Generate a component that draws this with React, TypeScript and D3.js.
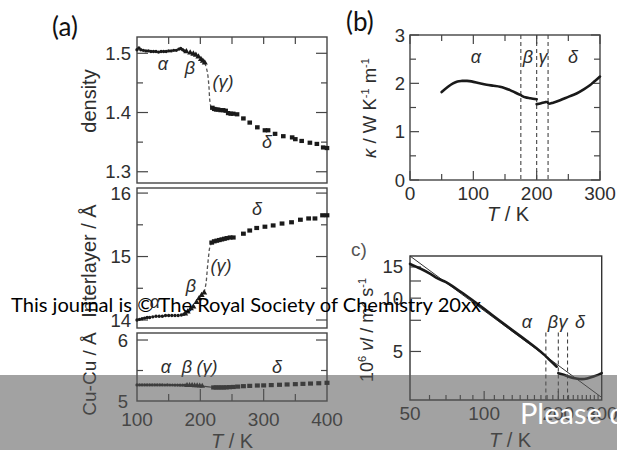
import React from "react";
import * as d3 from "d3";

type Pt = [number, number];

// ---------- (a) density ----------
const densAlpha: Pt[] = [[100,1.506],[103,1.509],[106,1.506],[110,1.505],[114,1.504],[118,1.504],[122,1.503],[126,1.503],[130,1.503],[134,1.502],[138,1.503],[142,1.503],[146,1.503],[150,1.504],[154,1.504],[158,1.505],[162,1.505],[166,1.507],[169,1.508],[172,1.506],[175,1.504]];
const densBeta: Pt[] = [[178,1.503],[184,1.501],[189,1.499],[193,1.497],[197,1.494],[201,1.490],[204,1.487],[207,1.484]];
const densGamma: Pt[] = [[207,1.484],[211,1.469],[213.5,1.445],[215,1.42],[217,1.41],[219,1.408]];
const densDelta: Pt[] = [[219,1.408],[222,1.406],[225,1.405],[228,1.405],[232,1.404],[236,1.404],[240,1.403],[244,1.399],[248,1.398],[252,1.398],[258,1.397],[268,1.390],[278,1.383],[290,1.375],[302,1.370],[307,1.370],[318,1.364],[331,1.360],[345,1.358],[350,1.355],[360,1.352],[373,1.349],[384,1.347],[394,1.341],[400,1.340]];

// ---------- (a) interlayer distance ----------
const interAlpha: Pt[] = [[100,14.0],[104,14.01],[108,14.02],[112,14.03],[116,14.04],[120,14.04],[125,14.05],[130,14.06],[135,14.06],[140,14.06],[145,14.07],[150,14.07],[155,14.07],[160,14.07],[165,14.07],[170,14.08],[174,14.09]];
const interBeta: Pt[] = [[176,14.1],[180,14.13],[185,14.18],[189,14.21],[194,14.28],[198,14.34],[202,14.39],[206,14.43]];
const interGamma: Pt[] = [[206,14.43],[209,14.58],[211,14.8],[213,15.0],[215,15.15],[218,15.22]];
const interDelta: Pt[] = [[218,15.22],[222,15.24],[226,15.25],[230,15.26],[234,15.27],[238,15.28],[242,15.29],[247,15.30],[252,15.30],[268,15.36],[278,15.41],[289,15.45],[302,15.47],[315,15.49],[329,15.52],[344,15.54],[358,15.58],[371,15.60],[381,15.60],[393,15.65],[400,15.65]];

// ---------- (a) Cu-Cu distance ----------
const cuAlpha: Pt[] = [[100,5.263],[104,5.263],[108,5.264],[112,5.263],[116,5.264],[120,5.263],[124,5.264],[128,5.263],[132,5.263],[136,5.264],[140,5.263],[144,5.262],[148,5.263],[152,5.262],[156,5.262],[160,5.261],[164,5.261],[168,5.260],[172,5.260],[176,5.259]];
const cuBeta: Pt[] = [[179,5.258],[183,5.257],[187,5.256],[191,5.254],[195,5.252],[199,5.249],[203,5.246]];
const cuGamma: Pt[] = [[203,5.246],[210,5.236],[218,5.226]];
const cuDelta: Pt[] = [[221,5.222],[225,5.222],[229,5.222],[233,5.222],[237,5.222],[241,5.224],[246,5.227],[252,5.230],[259,5.236],[268,5.243],[278,5.248],[290,5.254],[300,5.256],[312,5.261],[325,5.266],[337,5.271],[350,5.276],[362,5.281],[374,5.286],[387,5.291],[400,5.298]];

// ---------- (b) thermal conductivity ----------
const kappaLow: Pt[] = [[50,1.82],[60,1.93],[68,2.0],[75,2.04],[82,2.05],[90,2.05],[97,2.04],[110,2.0],[121,1.97],[132,1.95],[142,1.93],[150,1.9],[158,1.86],[166,1.81],[174,1.76],[182,1.71],[190,1.69],[200,1.67]];
const kappaHigh: Pt[] = [[200,1.57],[207,1.59],[213,1.61],[217,1.61],[219,1.58],[226,1.6],[237,1.65],[250,1.72],[263,1.79],[275,1.88],[284,1.96],[292,2.05],[300,2.14]];
const kappaPhaseT = [175, 200, 218];

// ---------- (c) v*l, log-log ----------
const vlLow: Pt[] = [[50,15.6],[55,14.7],[60,13.8],[65,12.9],[70,12.3],[80,10.9],[90,9.7],[100,8.7],[115,7.5],[130,6.6],[150,5.7],[165,5.15],[175,4.8],[185,4.45],[197,4.1]];
const vlHigh: Pt[] = [[200,3.77],[212,3.68],[224,3.58],[236,3.52],[249,3.49],[262,3.52],[278,3.61],[290,3.69],[300,3.77]];
const vlFit: Pt[] = [[50,17.3],[300,2.75]];
const vlPhaseT = [178, 200, 218];
const vlPhaseTop = 6.4;

// tick values
const aXMajor = [100, 200, 300, 400];
const aXMinor = [150, 250, 350];
const densMajor = [1.3, 1.4, 1.5];
const densMinor = [1.35, 1.45];
const interMajor = [14, 15, 16];
const interMinor = [14.5, 15.5];
const cuMajor = [5, 6];
const cuMinor = [5.5];
const bXMajor = [0, 100, 200, 300];
const bXMinor = [50, 150, 250];
const bYMajor = [0, 1, 2, 3];
const bYMinor = [0.5, 1.5, 2.5];
const cXLabels = [50, 100, 200, 300];
const cXMajor = [100, 200];
const cXMinor = [60,70,80,90,110,120,130,140,150,160,170,180,190,210,220,230,240,250,260,270,280,290];
const cYTicks = [5, 7.5, 10, 12.5, 15];
const cYLabels = [5, 10, 15];

const FONT = "'Liberation Sans', Arial, Helvetica, sans-serif";
const LABEL_FONT = "Lato, 'Open Sans', sans-serif";
const INK = "#1a1a1a";
const TXT = "#2e2e2e";
const AX = "#454545";

type Scale = (v: number) => number;

function yTicks(ys: Scale, vals: number[], x0: number, x1: number, len: number, key: string) {
  return vals.map((v) => (
    <g key={key + v}>
      <line x1={x0} x2={x0 + len} y1={ys(v)} y2={ys(v)} stroke={AX} strokeWidth={1.2} />
      <line x1={x1} x2={x1 - len} y1={ys(v)} y2={ys(v)} stroke={AX} strokeWidth={1.2} />
    </g>
  ));
}

function xTicks(xs: Scale, vals: number[], y: number, dir: number, len: number, key: string) {
  return vals.map((v) => (
    <line key={key + v} x1={xs(v)} x2={xs(v)} y1={y} y2={y + dir * len} stroke={AX} strokeWidth={1.2} />
  ));
}

function Squares({ data, xs, ys, w, h }: { data: Pt[]; xs: Scale; ys: Scale; w: number; h: number }) {
  return (
    <g fill={INK}>
      {data.map(([t, v], i) => (
        <rect key={i} x={xs(t) - w / 2} y={ys(v) - h / 2} width={w} height={h} />
      ))}
    </g>
  );
}

function Dots({ data, xs, ys, r }: { data: Pt[]; xs: Scale; ys: Scale; r: number }) {
  return (
    <g fill={INK}>
      {data.map(([t, v], i) => (
        <circle key={i} cx={xs(t)} cy={ys(v)} r={r} />
      ))}
    </g>
  );
}

function Triangles({ data, xs, ys, size }: { data: Pt[]; xs: Scale; ys: Scale; size: number }) {
  const sym = d3.symbol(d3.symbolTriangle, size)() as string;
  return (
    <g fill={INK}>
      {data.map(([t, v], i) => (
        <path key={i} d={sym} transform={`translate(${xs(t)},${ys(v)})`} />
      ))}
    </g>
  );
}

function Greek({ x, y, children, size = 18 }: { x: number; y: number; children: React.ReactNode; size?: number }) {
  return (
    <text x={x} y={y} textAnchor="middle" fontFamily={FONT} fontStyle="italic" fontSize={size} fill={TXT}>
      {children}
    </text>
  );
}

export default function App() {
  // panel (a)
  const aL = 137, aR = 327;
  const xa = d3.scaleLinear().domain([100, 400]).range([aL, aR]);
  const dTop = 37, dBot = 183;
  const yDens = d3.scaleLinear().domain([1.281, 1.5275]).range([dBot, dTop]);
  const iTop = 188, iBot = 328;
  const yInter = d3.scaleLinear().domain([13.874, 16.08]).range([iBot, iTop]);
  const cTop = 333, cBot = 401;
  const yCu = d3.scaleLinear().domain([5, 6.115]).range([cBot, cTop]);

  // panel (b)
  const bL = 410, bR = 600, bT = 35, bB = 180;
  const xb = d3.scaleLinear().domain([0, 300]).range([bL, bR]);
  const yb = d3.scaleLinear().domain([0, 3]).range([bB, bT]);

  // panel (c)
  const cL = 410, cR = 601.7, cT = 256, cB = 400;
  const xc = d3.scaleLog().domain([50, 300]).range([cL, cR]);
  const yc = d3.scaleLog().domain([2.66, 17.3]).range([cB, cT]);

  const lineA = (ys: Scale) => d3.line<Pt>().x((d) => xa(d[0])).y((d) => ys(d[1])).curve(d3.curveCatmullRom);
  const lineB = d3.line<Pt>().x((d) => xb(d[0])).y((d) => yb(d[1])).curve(d3.curveCatmullRom);
  const lineC = d3.line<Pt>().x((d) => xc(d[0])).y((d) => yc(d[1])).curve(d3.curveCatmullRom);
  const lineCStraight = d3.line<Pt>().x((d) => xc(d[0])).y((d) => yc(d[1]));

  const tickText = { fontFamily: FONT, fontSize: 18.5, fill: TXT } as const;

  return (
    <svg width={617} height={450} viewBox="0 0 617 450" style={{ position: "absolute", left: 0, top: 0, background: "#fff" }}>
      <rect x={0} y={0} width={617} height={450} fill="#fff" />

      {/* ===== (a) ===== */}
      <text x={52} y={36} fontFamily={LABEL_FONT} fontSize={26} fill="#111">(a)</text>

      {/* density */}
      <rect x={aL} y={dTop} width={aR - aL} height={dBot - dTop} fill="none" stroke={AX} strokeWidth={1.4} />
      {yTicks(yDens, densMajor, aL, aR, 11, "dM")}
      {yTicks(yDens, densMinor, aL, aR, 6, "dm")}
      {xTicks(xa, [...aXMinor, 200, 300], dTop, 1, 7, "dx")}
      {densMajor.map((v) => (
        <text key={v} x={131} y={yDens(v) + 6.5} textAnchor="end" {...tickText}>{v.toFixed(1)}</text>
      ))}
      <path d={lineA(yDens)(densGamma) as string} fill="none" stroke="#555" strokeWidth={1.3} strokeDasharray="3.5,2.5" />
      <Dots data={densAlpha} xs={xa} ys={yDens} r={1.7} />
      <Triangles data={densBeta} xs={xa} ys={yDens} size={16} />
      <Squares data={densDelta} xs={xa} ys={yDens} w={4.6} h={4.2} />
      <Greek x={163} y={70}>α</Greek>
      <Greek x={190} y={74}>β</Greek>
      <Greek x={223} y={88}>(γ)</Greek>
      <Greek x={267} y={148}>δ</Greek>
      <text transform="translate(96,101) rotate(-90)" textAnchor="middle" fontFamily={FONT} fontSize={20} fill={TXT}>density</text>

      {/* interlayer */}
      <rect x={aL} y={iTop} width={aR - aL} height={iBot - iTop} fill="none" stroke={AX} strokeWidth={1.4} />
      {yTicks(yInter, interMajor, aL, aR, 11, "iM")}
      {yTicks(yInter, interMinor, aL, aR, 6, "im")}
      {interMajor.map((v) => (
        <text key={v} x={131} y={yInter(v) + 6.5} textAnchor="end" {...tickText}>{v}</text>
      ))}
      <path d={lineA(yInter)(interGamma) as string} fill="none" stroke="#555" strokeWidth={1.3} strokeDasharray="3.5,2.5" />
      <Dots data={interAlpha} xs={xa} ys={yInter} r={1.7} />
      <Triangles data={interBeta} xs={xa} ys={yInter} size={16} />
      <Squares data={interDelta} xs={xa} ys={yInter} w={4.8} h={4.2} />
      <Greek x={155} y={308}>α</Greek>
      <Greek x={191} y={292}>β</Greek>
      <Greek x={221} y={272}>(γ)</Greek>
      <Greek x={257} y={215}>δ</Greek>
      <text transform="translate(96,261) rotate(-90)" textAnchor="middle" fontFamily={FONT} fontSize={20} fill={TXT}>Interlayer / Å</text>

      {/* Cu-Cu */}
      <rect x={aL} y={cTop} width={aR - aL} height={cBot - cTop} fill="none" stroke={AX} strokeWidth={1.4} />
      {yTicks(yCu, [6], aL, aR, 11, "cM")}
      {yTicks(yCu, cuMinor, aL, aR, 6, "cm")}
      {xTicks(xa, [200, 300], cBot, -1, 12, "cxM")}
      {xTicks(xa, aXMinor, cBot, -1, 7, "cxm")}
      {cuMajor.map((v) => (
        <text key={v} x={128} y={yCu(v) + 6.5} textAnchor="end" {...tickText}>{v}</text>
      ))}
      {aXMajor.map((v) => (
        <text key={v} x={xa(v)} y={426} textAnchor="middle" {...tickText} fontSize={19}>{v}</text>
      ))}
      <path d={lineA(yCu)(cuGamma) as string} fill="none" stroke="#333" strokeWidth={1.1} />
      <Dots data={cuAlpha} xs={xa} ys={yCu} r={1.6} />
      <Triangles data={cuBeta} xs={xa} ys={yCu} size={14} />
      <Squares data={cuDelta} xs={xa} ys={yCu} w={5} h={4.2} />
      <Greek x={166} y={373}>α</Greek>
      <Greek x={187} y={373}>β</Greek>
      <Greek x={207} y={373}>(γ)</Greek>
      <Greek x={277} y={373}>δ</Greek>
      <text transform="translate(96,374) rotate(-90)" textAnchor="middle" fontFamily={FONT} fontSize={19} fill={TXT}>Cu-Cu / Å</text>
      <text x={232} y={448} textAnchor="middle" fontFamily={FONT} fontSize={20} fill={TXT}>
        <tspan fontStyle="italic">T</tspan> / K
      </text>

      {/* ===== (b) ===== */}
      <text x={346} y={31} fontFamily={LABEL_FONT} fontSize={26} fill="#111">(b)</text>
      <rect x={bL} y={bT} width={bR - bL} height={bB - bT} fill="none" stroke={AX} strokeWidth={1.4} />
      {yTicks(yb, bYMajor, bL, bR, 9, "bM")}
      {yTicks(yb, bYMinor, bL, bR, 6, "bm")}
      {xTicks(xb, bXMajor, bB, -1, 9, "bxM")}
      {xTicks(xb, bXMinor, bB, -1, 6, "bxm")}
      {xTicks(xb, bXMajor, bT, 1, 9, "btM")}
      {xTicks(xb, bXMinor, bT, 1, 6, "btm")}
      {bYMajor.map((v) => (
        <text key={v} x={405} y={yb(v) + 6.5} textAnchor="end" {...tickText}>{v}</text>
      ))}
      {bXMajor.map((v) => (
        <text key={v} x={xb(v)} y={200} textAnchor="middle" {...tickText} fontSize={19}>{v}</text>
      ))}
      {kappaPhaseT.map((t) => (
        <line key={t} x1={xb(t)} x2={xb(t)} y1={bT} y2={bB} stroke="#444" strokeWidth={1.1} strokeDasharray="4,3" />
      ))}
      <path d={lineB(kappaLow) as string} fill="none" stroke={INK} strokeWidth={2.6} strokeLinecap="round" />
      <path d={lineB(kappaHigh) as string} fill="none" stroke={INK} strokeWidth={2.6} strokeLinecap="round" />
      <Greek x={476} y={63}>α</Greek>
      <Greek x={528} y={63}>β</Greek>
      <Greek x={543} y={63}>γ</Greek>
      <Greek x={573} y={63}>δ</Greek>
      <text transform="translate(376,108) rotate(-90)" textAnchor="middle" fontFamily={FONT} fontSize={18.5} fill={TXT}>
        <tspan fontStyle="italic">κ</tspan> / W K<tspan fontSize={11} dy={-7}>-1</tspan><tspan dy={7}> m</tspan><tspan fontSize={11} dy={-7}>-1</tspan>
      </text>
      <text x={508} y={221} textAnchor="middle" fontFamily={FONT} fontSize={20} fill={TXT}>
        <tspan fontStyle="italic">T</tspan> / K
      </text>

      {/* ===== (c) ===== */}
      <text x={351} y={256} fontFamily={FONT} fontSize={19} fill="#555">c)</text>
      <rect x={cL} y={cT} width={cR - cL} height={cB - cT} fill="none" stroke="#333" strokeWidth={1.4} />
      {cYTicks.map((v) => (
        <line key={"cy" + v} x1={cL} x2={cL + 11} y1={yc(v)} y2={yc(v)} stroke={AX} strokeWidth={1.2} />
      ))}
      {xTicks(xc, cXMajor, cB, -1, 9, "cxM2")}
      {xTicks(xc, cXMinor, cB, -1, 5, "cxm2")}
      {cYLabels.map((v) => (
        <text key={v} x={403} y={yc(v) + 6.5} textAnchor="end" {...tickText}>{v}</text>
      ))}
      {cXLabels.map((v) => (
        <text key={v} x={xc(v)} y={420} textAnchor="middle" {...tickText} fontSize={19}>{v}</text>
      ))}
      {vlPhaseT.map((t) => (
        <line key={t} x1={xc(t)} x2={xc(t)} y1={yc(vlPhaseTop)} y2={cB} stroke="#444" strokeWidth={1.1} strokeDasharray="4,3" />
      ))}
      <path d={lineCStraight(vlFit) as string} fill="none" stroke="#333" strokeWidth={1} />
      <path d={lineC(vlLow) as string} fill="none" stroke={INK} strokeWidth={2.6} strokeLinecap="round" />
      <path d={lineC(vlHigh) as string} fill="none" stroke={INK} strokeWidth={2.6} strokeLinecap="round" />
      <Greek x={527} y={328}>α</Greek>
      <Greek x={553} y={328}>β</Greek>
      <Greek x={563} y={328}>γ</Greek>
      <Greek x={580} y={328}>δ</Greek>
      <text transform="translate(373,330) rotate(-90)" textAnchor="middle" fontFamily={FONT} fontSize={18} fill={TXT}>
        10<tspan fontSize={11} dy={-7}>6</tspan><tspan dy={7}> </tspan><tspan fontStyle="italic">vl</tspan> / m<tspan fontSize={11} dy={-7}>2</tspan><tspan dy={7}> s</tspan><tspan fontSize={11} dy={-7}>-1</tspan>
      </text>
      <text x={510} y={447} textAnchor="middle" fontFamily={FONT} fontSize={20} fill={TXT}>
        <tspan fontStyle="italic">T</tspan> / K
      </text>

      {/* page furniture */}
      <text x={11} y={312} fontFamily={LABEL_FONT} fontSize={20} fill="#000" textLength={470} lengthAdjust="spacingAndGlyphs">
        This journal is © The Royal Society of Chemistry 20xx
      </text>
      <rect x={0} y={375} width={617} height={75} fill="#595959" opacity={0.56} />
      <text x={520} y={424} fontFamily={LABEL_FONT} fontSize={29} fill="#fff">Please do not adjust margins</text>
    </svg>
  );
}
